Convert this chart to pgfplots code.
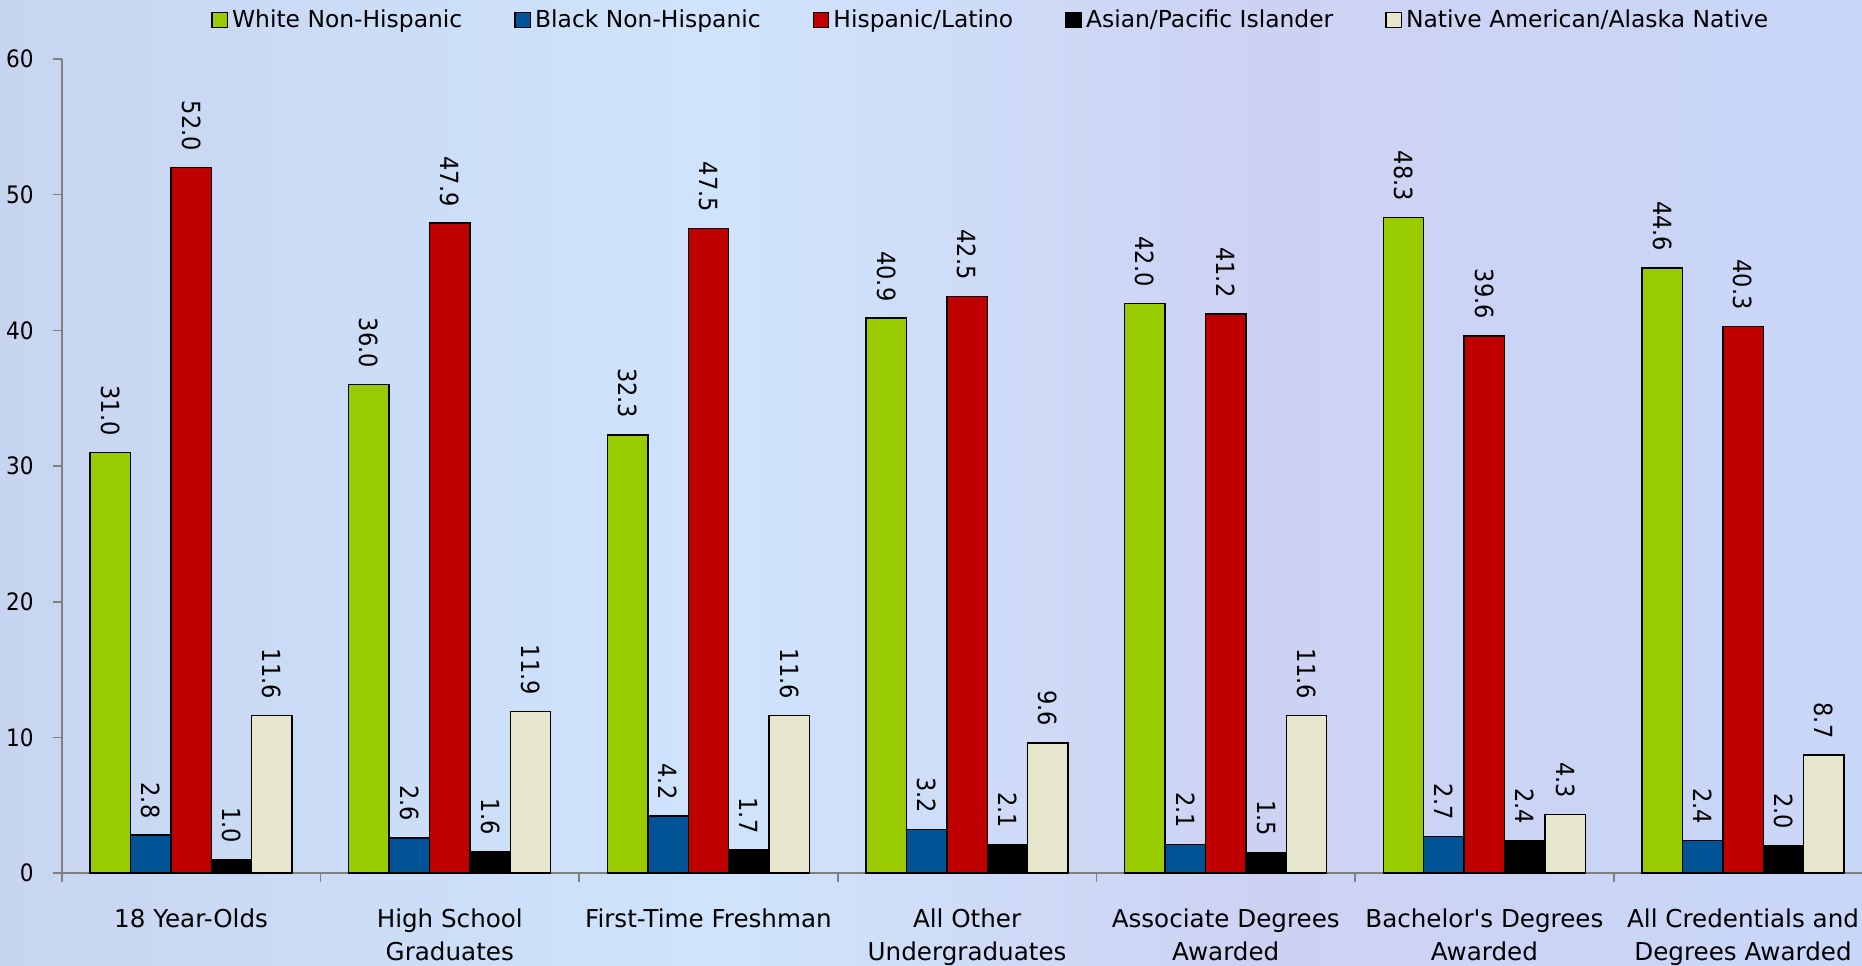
\documentclass[border=0pt]{standalone}
\usepackage{fontspec}
\setmainfont{DejaVu Sans}[Ligatures=TeXOff]
\newfontfamily\numfont{DejaVu Sans}[FakeStretch=0.9]
\usepackage{pgfplots}
\pgfplotsset{compat=1.18}
\definecolor{cGreen}{RGB}{153,204,0}
\definecolor{cBlue}{RGB}{0,84,150}
\definecolor{cRed}{RGB}{192,0,0}
\definecolor{cBlack}{RGB}{0,0,0}
\definecolor{cCream}{RGB}{230,230,204}
\definecolor{bgL}{RGB}{200,213,240}
\definecolor{bgM}{RGB}{207,228,252}
\definecolor{bgN}{RGB}{205,210,242}
\definecolor{bgR}{RGB}{200,215,248}
\begin{document}
\begin{tikzpicture}
\path[use as bounding box] (-30.9pt,-46pt) rectangle (900pt,436.5pt);
\shade[left color=bgL, right color=bgM] (-30.9pt,-46pt) rectangle (330pt,436.5pt);
\shade[left color=bgM, right color=bgN] (330pt,-46pt) rectangle (600pt,436.5pt);
\shade[left color=bgN, right color=bgR] (600pt,-46pt) rectangle (900pt,436.5pt);
\begin{axis}[
  scale only axis, width=900pt, height=407pt,
  at={(0,0)}, anchor=south west,
  xmin=-0.5, xmax=6.46, ymin=0, ymax=60,
  axis x line*=bottom, axis y line*=left,
  axis line style={draw=gray, line width=0.8pt},
  ybar=0pt, bar width=20.2pt,
  ytick={0,10,...,60},
  yticklabel style={font=\numfont\fontsize{12}{14}\selectfont, xshift=-6pt},
  /pgf/number format/assume math mode=true,
  tick align=outside, major tick length=4.5pt,
  tick style={draw=gray, line width=0.8pt},
  xtick={-0.5,0.5,...,5.5}, xticklabels={},
  extra x ticks={0,1,2,3,4,5,6},
  extra x tick labels={18 Year-Olds,High School\\Graduates,First-Time Freshman,All Other\\Undergraduates,Associate Degrees\\Awarded,Bachelor's Degrees\\Awarded,All Credentials and\\Degrees Awarded},
  extra x tick style={major tick length=0pt, xticklabel style={align=center, font=\fontsize{12.3}{16.5}\selectfont, yshift=-14.5pt}},
  every axis plot/.append style={draw=black, line width=0.7pt},
  nodes near coords={\pgfmathprintnumber[fixed,fixed zerofill,precision=1]{\pgfplotspointmeta}},
  every node near coord/.append style={rotate=-90, anchor=east, inner xsep=8pt, font=\numfont\fontsize{12.5}{14}\selectfont, text=black},
  legend columns=5,
  legend style={at={(0.0828,1.048)}, anchor=west, draw=none, fill=none, inner sep=0pt,
    font=\fontsize{11.7}{13}\selectfont,
    /tikz/every even column/.append style={column sep=24pt}},
  legend image code/.code={\draw[#1, draw=black, line width=0.7pt] (0pt,-3.85pt) rectangle (7.7pt,3.85pt);},
]
\addplot[fill=cGreen] coordinates {(0,31.0) (1,36.0) (2,32.3) (3,40.9) (4,42.0) (5,48.3) (6,44.6)};
\addplot[fill=cBlue] coordinates {(0,2.8) (1,2.6) (2,4.2) (3,3.2) (4,2.1) (5,2.7) (6,2.4)};
\addplot[fill=cRed] coordinates {(0,52.0) (1,47.9) (2,47.5) (3,42.5) (4,41.2) (5,39.6) (6,40.3)};
\addplot[fill=cBlack] coordinates {(0,1.0) (1,1.6) (2,1.7) (3,2.1) (4,1.5) (5,2.4) (6,2.0)};
\addplot[fill=cCream] coordinates {(0,11.6) (1,11.9) (2,11.6) (3,9.6) (4,11.6) (5,4.3) (6,8.7)};
\legend{White Non-Hispanic,Black Non-Hispanic,Hispanic/Latino,Asian/Pacific Islander,Native American/Alaska Native}
\end{axis}
\end{tikzpicture}
\end{document}
